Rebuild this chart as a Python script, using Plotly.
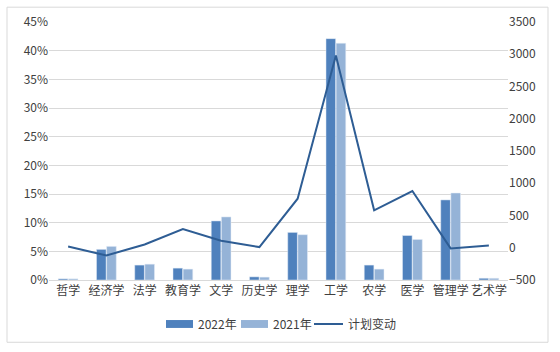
import plotly.graph_objects as go

categories = ["哲学", "经济学", "法学", "教育学", "文学", "历史学", "理学", "工学", "农学", "医学", "管理学", "艺术学"]
share_2022 = [0.002, 0.0534, 0.026, 0.0207, 0.103, 0.0055, 0.083, 0.421, 0.026, 0.0776, 0.1397, 0.003]
share_2021 = [0.002, 0.0586, 0.0276, 0.019, 0.110, 0.005, 0.079, 0.413, 0.019, 0.0707, 0.1517, 0.003]
plan_change = [20, -120, 50, 290, 110, 10, 760, 2980, 580, 880, -10, 35]
series_names = ["2022年", "2021年", "计划变动"]
series_colors = ["#4f81bd", "#95b3d7", "#2e5d94"]

font_family = "Noto Sans CJK SC, Microsoft YaHei, sans-serif"

fig = go.Figure()
fig.add_trace(go.Bar(x=categories, y=share_2022, name=series_names[0], marker_color=series_colors[0]))
fig.add_trace(go.Bar(x=categories, y=share_2021, name=series_names[1], marker_color=series_colors[1]))
fig.add_trace(go.Scatter(x=categories, y=plan_change, name=series_names[2], mode="lines",
                         line=dict(color=series_colors[2], width=2), yaxis="y2"))

W, H = 560, 352
L, R, T, B = 49, 52, 19, 72
pw = W - L - R
ph = H - T - B

def px_x(x):
    return (x - L) / pw

def px_y(y):
    return (H - B - y) / ph

shapes = [dict(type="rect", xref="paper", yref="paper",
               x0=px_x(7), x1=px_x(548), y0=px_y(343), y1=px_y(4),
               line=dict(color="#d9d9d9", width=1), layer="below")]
annotations = []

# custom legend (swatch x-start, text x-start)
leg_y = 324.5
legend_pos = [(166, 196), (241, 271), (314, 346)]
for i, (sx, tx) in enumerate(legend_pos):
    if i < 2:
        shapes.append(dict(type="rect", xref="paper", yref="paper",
                           x0=px_x(sx), x1=px_x(sx + 27), y0=px_y(leg_y + 4), y1=px_y(leg_y - 4),
                           fillcolor=series_colors[i], line=dict(width=0)))
    else:
        shapes.append(dict(type="line", xref="paper", yref="paper",
                           x0=px_x(sx), x1=px_x(sx + 29), y0=px_y(leg_y), y1=px_y(leg_y),
                           line=dict(color=series_colors[i], width=2)))
    annotations.append(dict(xref="paper", yref="paper", x=px_x(tx), y=px_y(leg_y),
                            xanchor="left", yanchor="middle", showarrow=False,
                            text=series_names[i], font=dict(size=12, color="#404040")))

fig.update_layout(
    width=W, height=H,
    margin=dict(l=L, r=R, t=T, b=B),
    paper_bgcolor="white", plot_bgcolor="white",
    font=dict(family=font_family, size=12, color="#404040"),
    barmode="group", bargap=0.47, bargroupgap=0.05,
    showlegend=False,
    xaxis=dict(showgrid=False, showline=True, linecolor="#d9d9d9", ticks="",
               tickfont=dict(size=12, color="#404040")),
    yaxis=dict(range=[0, 0.45], dtick=0.05, tickformat=".0%", showgrid=True,
               gridcolor="#d9d9d9", zeroline=False, showline=False, ticks="",
               tickfont=dict(size=12, color="#404040")),
    yaxis2=dict(range=[-500, 3500], dtick=500, overlaying="y", side="right",
                showgrid=False, zeroline=False, showline=False, ticks="",
                tickfont=dict(size=12, color="#404040")),
    shapes=shapes,
    annotations=annotations,
)

fig.write_html("out.html")
